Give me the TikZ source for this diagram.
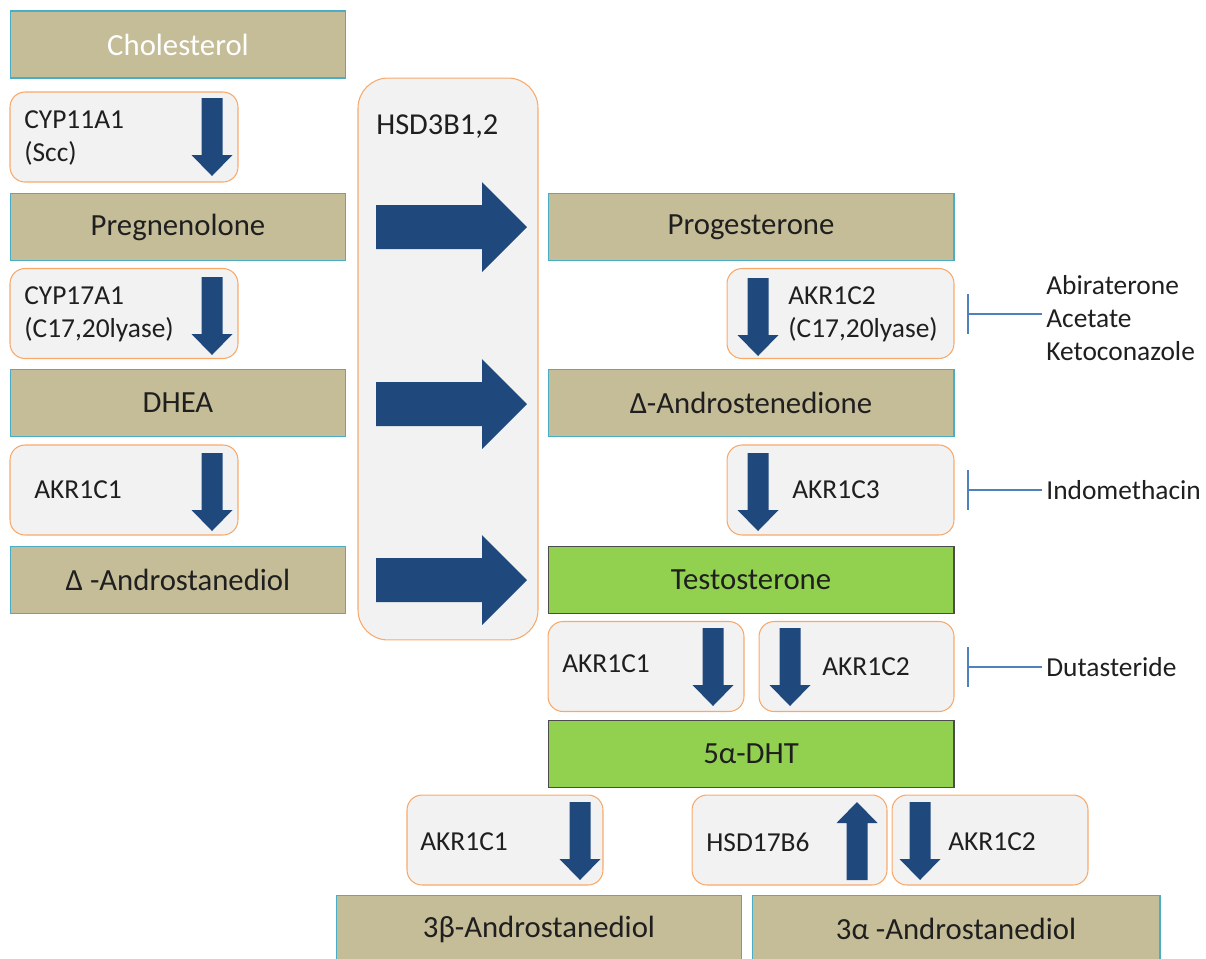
\documentclass[tikz,border=0pt]{standalone}
\usepackage{fontspec}
\setmainfont{Carlito}
\usetikzlibrary{arrows.meta, positioning}

\definecolor{subfill}{HTML}{C4BD97}
\definecolor{subline}{HTML}{4BACC6}
\definecolor{hitfill}{HTML}{92D050}
\definecolor{enzfill}{HTML}{F2F2F2}
\definecolor{enzline}{HTML}{F8A96A}
\definecolor{blkblue}{HTML}{1F497D}
\definecolor{inhline}{HTML}{4F81BD}

% block arrows: x, y of the tail (pixel units), rotation
\newcommand{\blkarrow}[3]{%
  \fill[blkblue, shift={(#1,#2)}, rotate=#3]
    (-10.5,0) -- (10.5,0) -- (10.5,57) -- (20.5,57) -- (0,78)
    -- (-20.5,57) -- (-10.5,57) -- cycle;}
\newcommand{\bigarrow}[2]{%
  \fill[blkblue, shift={(#1,#2)}]
    (0,-22) -- (106,-22) -- (106,-45) -- (151,0) -- (106,45)
    -- (106,22) -- (0,22) -- cycle;}

\begin{document}
\begin{tikzpicture}[x=0.02cm, y=-0.02cm,
        sub/.style={rectangle, draw=subline, line width=0.6pt, fill=subfill,
                    minimum width=6.72cm, minimum height=1.34cm, inner sep=0pt,
                    text=black!88, font=\fontsize{17.5}{21}\selectfont},
        hit/.style={sub, draw=black!70, fill=hitfill, minimum width=8.12cm},
        wide/.style={sub, minimum width=8.12cm},
        enz/.style={rectangle, draw=enzline, line width=0.6pt, fill=enzfill,
                    rounded corners=0.3cm, minimum height=1.8cm, inner sep=0pt},
        label/.style={anchor=west, inner sep=0pt, align=left, text=black!88,
                      font=\fontsize{15.6}{18.8}\selectfont},
        inh/.style={draw=inhline, line width=1.2pt, -{Bar[width=22.8pt]},
                    shorten <=0.08cm}]
      \useasboundingbox (0,0) rectangle (1206,958);

      % left column
      \node[sub, text=white] (chol) at (178,44.5) {Cholesterol};
      \node[sub] (preg) at (178,227) {Pregnenolone};
      \node[sub] (dhea) at (178,403) {DHEA};
      \node[sub] (adiol) at (178,580) {Δ -Androstanediol};

      \node[enz, minimum width=4.56cm] (scc) at (124,137) {};
      \node[label] (scct) at (24,138) {CYP11A1\\(Scc)};
      \blkarrow{212}{98}{0}
      \node[enz, minimum width=4.56cm] (lya) at (124,313.5) {};
      \node[label] (lyat) at (24,314) {CYP17A1\\(C17,20lyase)};
      \blkarrow{212}{277}{0}
      \node[enz, minimum width=4.56cm] (ca) at (124,490) {};
      \node[label] (cat) at (34,490) {AKR1C1};
      \blkarrow{212}{453}{0}

      % HSD3B1,2
      \node[enz, rounded corners=0.6cm, minimum width=3.6cm,
            minimum height=11.24cm] (hsd) at (448,359) {};
      \node[label, font=\fontsize{17.3}{21}\selectfont] (hsdt) at (376,127) {HSD3B1,2};
      \bigarrow{376}{227}
      \bigarrow{376}{404}
      \bigarrow{376}{580}

      % right column
      \node[wide] (prog) at (751,227) {Progesterone};
      \node[wide] (adione) at (751,403) {Δ-Androstenedione};
      \node[hit] (testo) at (751,580) {Testosterone};
      \node[hit] (dht) at (751,754) {5α-DHT};

      \node[enz, minimum width=4.54cm] (cb) at (840.5,313.5) {};
      \node[label] (cbt) at (788,314) {AKR1C2\\(C17,20lyase)};
      \blkarrow{758}{278}{0}
      \node[enz, minimum width=4.54cm] (cc) at (840.5,490) {};
      \node[label] (cct) at (792,490) {AKR1C3};
      \blkarrow{758}{453}{0}

      \node[enz, minimum width=3.92cm] (tca) at (646,666.5) {};
      \node[label] (tcat) at (562,664) {AKR1C1};
      \blkarrow{713}{628}{0}
      \node[enz, minimum width=3.9cm] (tcb) at (856.5,666.5) {};
      \node[label] (tcbt) at (822,667) {AKR1C2};
      \blkarrow{790}{628}{0}

      % bottom row
      \node[enz, minimum width=3.92cm] (bca) at (505,840) {};
      \node[label] (bcat) at (420,842) {AKR1C1};
      \blkarrow{580}{802}{0}
      \node[enz, minimum width=3.9cm] (bhsd) at (789.5,840) {};
      \node[label] (bhsdt) at (706,842) {HSD17B6};
      \blkarrow{857}{880}{180}
      \node[enz, minimum width=3.92cm] (bcb) at (990,840) {};
      \node[label] (bcbt) at (948,842) {AKR1C2};
      \blkarrow{920}{802}{0}

      \node[wide] (bdiol) at (539,929) {3β-Androstanediol};
      \node[wide, minimum width=8.16cm] (adiol3) at (956,929) {3α -Androstanediol};

      % inhibitors
      \node[label] (abi) at (1046,318) {Abiraterone\\Acetate\\Ketoconazole};
      \node[label] (indo) at (1046,490) {Indomethacin};
      \node[label] (duta) at (1046,667) {Dutasteride};
      \coordinate (abibar) at (967,314);
      \coordinate (indobar) at (967,490);
      \coordinate (dutabar) at (967,667);
      \draw[inh] (abi.west |- abibar) -- (abibar);
      \draw[inh] (indo.west |- indobar) -- (indobar);
      \draw[inh] (duta.west |- dutabar) -- (dutabar);
    \end{tikzpicture}
\end{document}
